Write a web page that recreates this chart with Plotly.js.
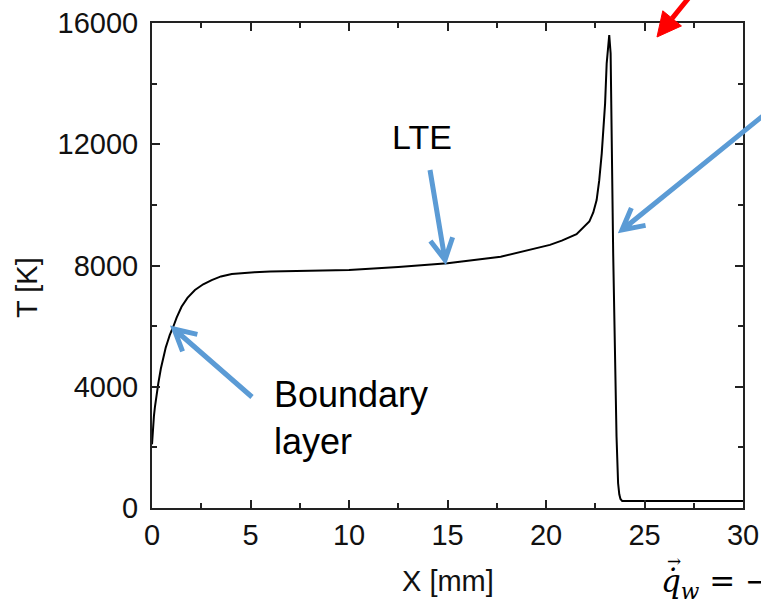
<!DOCTYPE html>
<html>
<head>
<meta charset="utf-8">
<script src="https://cdn.plot.ly/plotly-3.0.1.min.js"></script>
<style>html,body{margin:0;padding:0;background:#fff;}#chart{width:761px;height:601px;}</style>
</head>
<body>
<div id="chart"></div>
<script>
// Data
const xMM = [0, 0.05, 0.1, 0.15, 0.22, 0.32, 0.45, 0.57, 0.7, 0.8, 0.9, 1.08, 1.25, 1.5, 1.8, 2.18, 2.6, 3.03, 3.5, 4.05, 4.5, 5.2, 6, 7, 10, 12.5, 15, 17.7, 20.2, 20.8, 21.55, 22.2, 22.4, 22.57, 22.7, 22.83, 22.95, 23.0, 23.08, 23.15, 23.21, 23.28, 23.41, 23.58, 23.66, 23.72, 23.78, 23.87, 25, 30];
const tempK = [2100, 2700, 3050, 3340, 3700, 4110, 4600, 4990, 5300, 5500, 5700, 5980, 6280, 6640, 6930, 7190, 7380, 7520, 7640, 7720, 7750, 7780, 7800, 7820, 7855, 7950, 8075, 8290, 8680, 8820, 9030, 9450, 9750, 10160, 10800, 11700, 12700, 13350, 14670, 15350, 15600, 15000, 8400, 2350, 815, 450, 300, 230, 230, 230];
const xTicks = [0, 5, 10, 15, 20, 25, 30];
const yTicks = [0, 4000, 8000, 12000, 16000];

// pixel -> paper helpers (plot area: x 152..743, y 23..508)
const L = 152, R = 743, T = 23, B = 508;
const px = v => (v - L) / (R - L);
const py = v => (B - v) / (B - T);

const blue = '#5B9BD5';
function chevronArrow(tail, tip, color, w) {
  const dx = tail[0] - tip[0], dy = tail[1] - tip[1];
  const len = Math.hypot(dx, dy), ux = dx / len, uy = dy / len;
  const a = 28 * Math.PI / 180, hl = 24;
  const r1 = [tip[0] + hl * (ux * Math.cos(a) - uy * Math.sin(a)), tip[1] + hl * (ux * Math.sin(a) + uy * Math.cos(a))];
  const r2 = [tip[0] + hl * (ux * Math.cos(-a) - uy * Math.sin(-a)), tip[1] + hl * (ux * Math.sin(-a) + uy * Math.cos(-a))];
  const P = p => px(p[0]).toFixed(5) + ',' + py(p[1]).toFixed(5);
  return {
    type: 'path', xref: 'paper', yref: 'paper', layer: 'above',
    path: 'M' + P(tail) + ' L' + P(tip) + ' M' + P(r1) + ' L' + P(tip) + ' L' + P(r2),
    line: {color: color, width: w}
  };
}
function filledArrow(tail, tip, color, w) {
  const dx = tail[0] - tip[0], dy = tail[1] - tip[1];
  const len = Math.hypot(dx, dy), ux = dx / len, uy = dy / len;
  const hl = 24, hw = 12;
  const base = [tip[0] + ux * hl, tip[1] + uy * hl];
  const b1 = [base[0] - uy * hw, base[1] + ux * hw];
  const b2 = [base[0] + uy * hw, base[1] - ux * hw];
  const P = p => px(p[0]).toFixed(5) + ',' + py(p[1]).toFixed(5);
  return [
    {type: 'path', xref: 'paper', yref: 'paper', layer: 'above',
     path: 'M' + P(tail) + ' L' + P(base), line: {color: color, width: w}},
    {type: 'path', xref: 'paper', yref: 'paper', layer: 'above',
     path: 'M' + P(tip) + ' L' + P(b1) + ' L' + P(b2) + ' Z',
     fillcolor: color, line: {color: color, width: 1}}
  ];
}

const shapes = [
  chevronArrow([252, 397], [174, 329], blue, 5),
  chevronArrow([430, 170], [445, 260], blue, 5),
  chevronArrow([780, 102], [622, 230], blue, 5),
  ...filledArrow([717, -37], [657, 37], '#FF0000', 5)
];

const tickFont = {family: 'Liberation Sans, Arial, sans-serif', size: 29, color: '#111'};
const titleFont = {family: 'Liberation Sans, Arial, sans-serif', size: 29, color: '#111'};

const axisCommon = {
  showgrid: false, zeroline: false, showline: true, linecolor: '#222', linewidth: 2,
  mirror: 'ticks', ticks: 'inside', ticklen: 8, tickwidth: 2, tickcolor: '#222',
  tickfont: tickFont
};

const layout = {
  width: 761, height: 601,
  margin: {l: L, r: 761 - R, t: T, b: 601 - B},
  paper_bgcolor: '#fff', plot_bgcolor: '#fff',
  showlegend: false,
  xaxis: Object.assign({}, axisCommon, {
    range: [0, 30], tickvals: xTicks, ticktext: xTicks.map(String),
    minor: {dtick: 2.5, ticks: 'inside', ticklen: 5, tickwidth: 2, tickcolor: '#222'}
  }),
  yaxis: Object.assign({}, axisCommon, {
    range: [0, 16000], tickvals: yTicks, ticktext: yTicks.map(String),
    ticklabelstandoff: 6,
    minor: {dtick: 2000, ticks: 'inside', ticklen: 5, tickwidth: 2, tickcolor: '#222'}
  }),
  shapes: shapes,
  annotations: [
    {xref: 'paper', yref: 'paper', x: px(27), y: py(288), text: 'T [K]', textangle: -90,
     showarrow: false, xanchor: 'center', yanchor: 'middle', font: titleFont},
    {xref: 'paper', yref: 'paper', x: px(448), y: py(581), text: 'X [mm]',
     showarrow: false, xanchor: 'center', yanchor: 'middle', font: titleFont},
    {xref: 'paper', yref: 'paper', x: px(422), y: py(137), text: 'LTE',
     showarrow: false, xanchor: 'center', yanchor: 'middle',
     font: {family: 'Liberation Sans, Arial, sans-serif', size: 34, color: '#000'}},
    {xref: 'paper', yref: 'paper', x: px(272), y: py(418), text: 'Boundary<br>layer',
     showarrow: false, xanchor: 'left', yanchor: 'middle', align: 'left',
     font: {family: 'Liberation Sans, Arial, sans-serif', size: 36, color: '#000'}},
    {xref: 'paper', yref: 'paper', x: px(659), y: py(583), text: '<i>q\u0307</i><sub><i>w</i></sub> = \u2212',
     showarrow: false, xanchor: 'left', yanchor: 'middle', align: 'left',
     font: {family: 'DejaVu Serif, Liberation Serif, serif', size: 31, color: '#000'}},
    {xref: 'paper', yref: 'paper', x: px(674), y: py(561), text: '\u2192',
     showarrow: false, xanchor: 'center', yanchor: 'middle',
     font: {family: 'DejaVu Serif, Liberation Serif, serif', size: 17, color: '#000'}}
  ]
};

const data = [{
  x: xMM, y: tempK, type: 'scatter', mode: 'lines',
  line: {color: '#000', width: 2}, hoverinfo: 'skip'
}];

Plotly.newPlot('chart', data, layout, {staticPlot: true, displayModeBar: false});
</script>
</body>
</html>
